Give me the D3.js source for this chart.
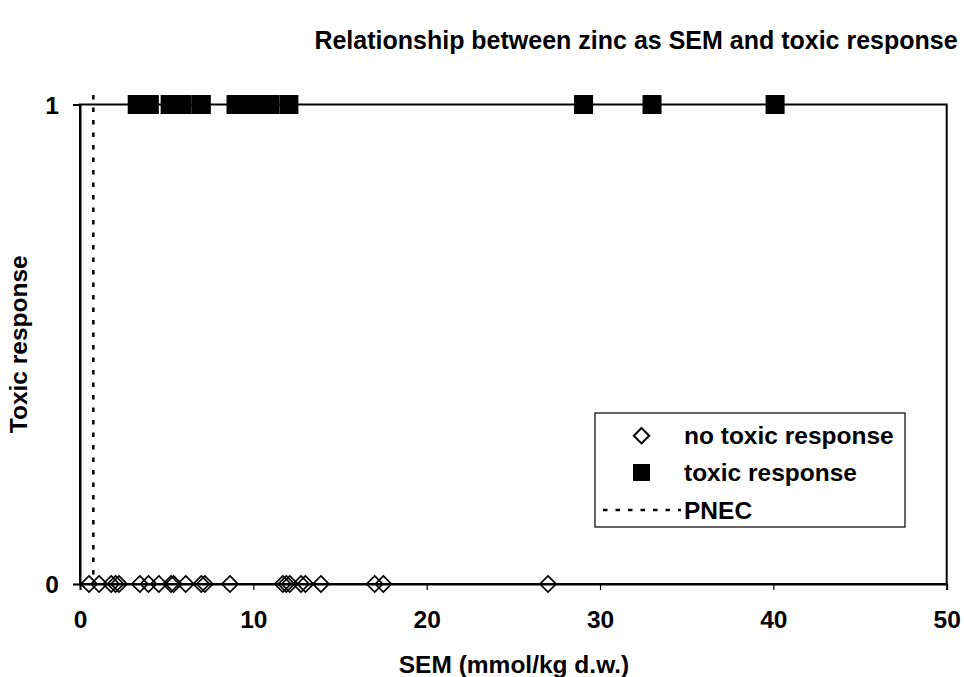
<!DOCTYPE html>
<html>
<head>
<meta charset="utf-8">
<script src="https://cdn.jsdelivr.net/npm/d3@7"></script>
<style>
  html, body { margin: 0; padding: 0; background: #fff; }
  svg { display: block; font-family: Arial, "Liberation Sans", sans-serif; }
</style>
</head>
<body>
<svg id="chart" width="964" height="677"></svg>
<script>
// SEM zinc concentrations (mmol/kg d.w.) per sample, split by observed response
const noToxicSEM = [0.52, 1.1, 1.8, 2.05, 2.25, 3.45, 3.95, 4.55, 5.25, 5.4, 6.1, 7.0, 7.2, 8.65, 11.7, 11.9, 12.1, 12.75, 13.0, 13.9, 17.0, 17.5, 27.0];
const toxicSEM = [3.3, 4.0, 5.2, 5.9, 7.0, 9.0, 9.75, 10.45, 10.95, 12.05, 29.05, 33.0, 40.1];
const pnecValue = [0.77];
const xTicks = [0, 10, 20, 30, 40, 50];
const yTicks = [0, 1];
const legendLabels = ["no toxic response", "toxic response", "PNEC"];

const FS = 24.5;
const svg = d3.select("#chart");
const margin = { left: 80, right: 17.3, top: 104.5, bottom: 93 };
const W = 964, H = 677;

const x = d3.scaleLinear().domain([0, 50]).range([margin.left, W - margin.right]);
const y = d3.scaleLinear().domain([0, 1]).range([H - margin.bottom, margin.top]);

// Title
svg.append("text")
  .attr("x", 636).attr("y", 49)
  .attr("text-anchor", "middle")
  .attr("font-size", 25).attr("font-weight", "bold")
  .text("Relationship between zinc as SEM and toxic response");

// Plot frame
svg.append("rect")
  .attr("x", x(0)).attr("y", y(1))
  .attr("width", x(50) - x(0)).attr("height", y(0) - y(1))
  .attr("fill", "none").attr("stroke", "#000").attr("stroke-width", 2);

// Axes
const xAxis = svg.append("g")
  .attr("transform", `translate(0,${y(0)})`)
  .call(d3.axisBottom(x).tickValues(xTicks).tickSize(6).tickPadding(21).tickFormat(d3.format("d")));
const yAxis = svg.append("g")
  .attr("transform", `translate(${x(0)},0)`)
  .call(d3.axisLeft(y).tickValues(yTicks).tickSize(7).tickPadding(14).tickFormat(d3.format("d")));
[xAxis, yAxis].forEach(g => {
  g.select(".domain").attr("stroke", "#000").attr("stroke-width", 2);
  g.selectAll(".tick line").attr("stroke", "#000").attr("stroke-width", 1.2);
  g.selectAll(".tick text")
    .attr("font-size", FS).attr("font-weight", "bold")
    .attr("font-family", "Arial, 'Liberation Sans', sans-serif").attr("fill", "#000");
});
yAxis.selectAll(".tick text").attr("dy", "0.35em");

// Axis titles
svg.append("text")
  .attr("x", 514).attr("y", 673)
  .attr("text-anchor", "middle")
  .attr("font-size", FS).attr("font-weight", "bold")
  .text("SEM (mmol/kg d.w.)");
svg.append("text")
  .attr("transform", `translate(27,${(y(0) + y(1)) / 2}) rotate(-90)`)
  .attr("text-anchor", "middle")
  .attr("font-size", FS).attr("font-weight", "bold")
  .text("Toxic response");

// PNEC threshold line
svg.selectAll("line.pnec").data(pnecValue).join("line")
  .attr("class", "pnec")
  .attr("x1", d => x(d)).attr("x2", d => x(d))
  .attr("y1", y(1.02)).attr("y2", y(0))
  .attr("stroke", "#000").attr("stroke-width", 2.5)
  .attr("stroke-dasharray", "4.5,8");

// Markers
const diamond = d3.symbol().type(d3.symbolDiamond2).size(165);
svg.selectAll("path.no").data(noToxicSEM).join("path")
  .attr("class", "no")
  .attr("transform", d => `translate(${x(d)},${y(0)})`)
  .attr("d", diamond)
  .attr("fill", "none").attr("stroke", "#000").attr("stroke-width", 1.7);

const sq = 19;
svg.selectAll("rect.tox").data(toxicSEM).join("rect")
  .attr("class", "tox")
  .attr("x", d => x(d) - sq / 2).attr("y", y(1) - sq / 2)
  .attr("width", sq).attr("height", sq)
  .attr("fill", "#000");

// Legend
const lg = svg.append("g").attr("transform", "translate(595,413)");
lg.append("rect").attr("width", 310).attr("height", 114)
  .attr("fill", "#fff").attr("stroke", "#000").attr("stroke-width", 1.2);
lg.append("path")
  .attr("transform", "translate(46.5,22.7)")
  .attr("d", d3.symbol().type(d3.symbolDiamond2).size(150))
  .attr("fill", "none").attr("stroke", "#000").attr("stroke-width", 2);
lg.append("rect").attr("x", 38).attr("y", 51).attr("width", 17).attr("height", 17).attr("fill", "#000");
lg.append("line").attr("x1", 8).attr("x2", 86).attr("y1", 97).attr("y2", 97)
  .attr("stroke", "#000").attr("stroke-width", 2.5).attr("stroke-dasharray", "4.5,8");
lg.selectAll("text.lt").data(legendLabels).join("text")
  .attr("class", "lt")
  .attr("x", 89).attr("y", (d, i) => [31, 68, 106][i])
  .attr("font-size", FS).attr("font-weight", "bold")
  .text(d => d);
</script>
</body>
</html>
